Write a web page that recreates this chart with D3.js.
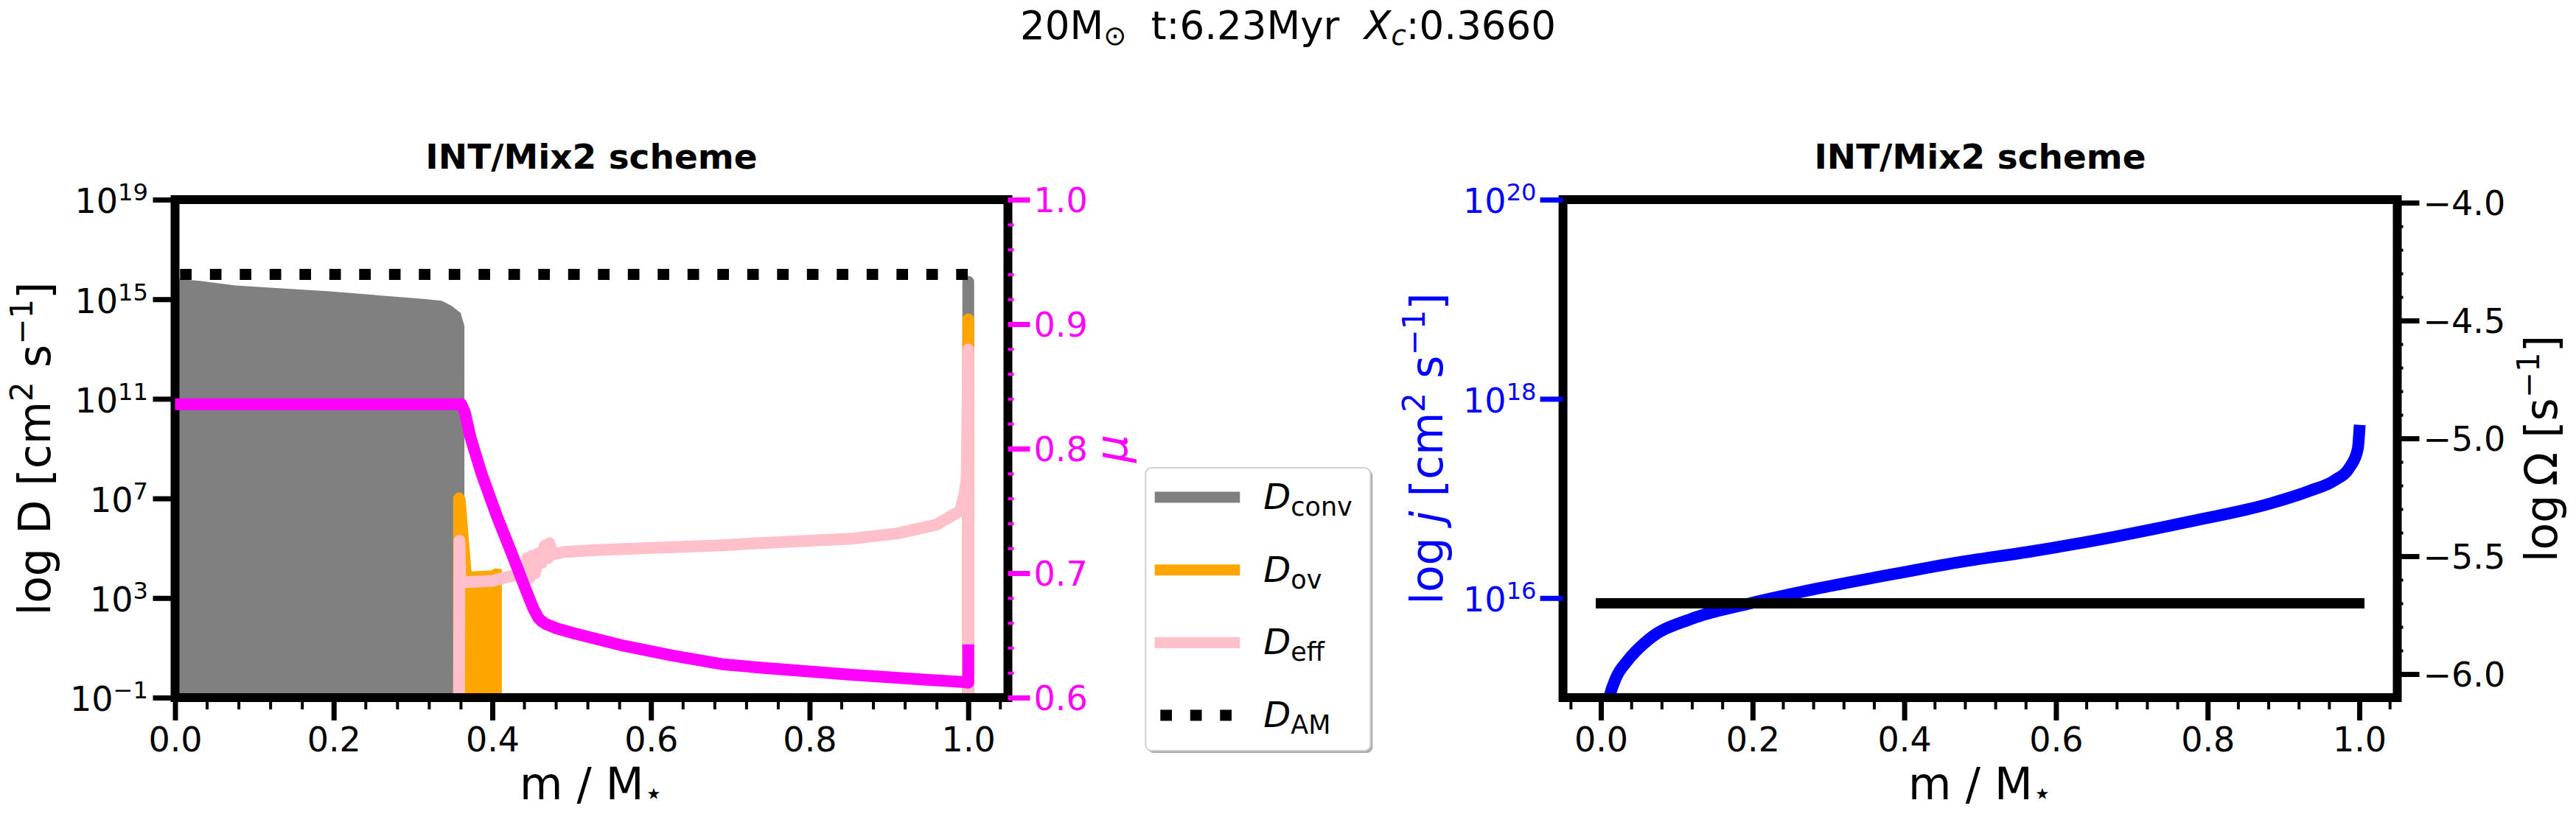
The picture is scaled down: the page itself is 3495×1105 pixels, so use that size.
<!DOCTYPE html>
<html>
<head>
<meta charset="utf-8">
<script src="https://cdn.jsdelivr.net/npm/d3@7"></script>
<style>
  body { margin: 0; background: #ffffff; }
  svg { display: block; font-family: "DejaVu Sans", sans-serif; }
</style>
</head>
<body>
<svg id="chart" width="3495" height="1105"></svg>
<script>
// values: mass coordinate m/M* and log10 of each quantity
var convCoreM    = [0, 0.006, 0.031, 0.076, 0.195, 0.313, 0.336, 0.348, 0.360, 0.3648];
var convCoreLogD = [15.81, 15.81, 15.74, 15.55, 15.32, 15.01, 14.94, 14.75, 14.45, 13.93];
var convSurfM    = [1.0, 1.0];
var convSurfLogD = [-2, 15.7];

var ovSpikeM    = [0.358, 0.358];
var ovSpikeLogD = [-2, 7.0];
var ovFillM     = [0.358, 0.3648, 0.3725, 0.399, 0.404, 0.4106];
var ovFillLogD  = [7.0, 6.99, 4.02, 4.07, 4.15, 4.12];
var ovSurfM     = [1.0, 1.0];
var ovSurfLogD  = [-2, 14.19];

var effM    = [0.358, 0.3585, 0.3595, 0.366, 0.400, 0.432, 0.440, 0.444, 0.447, 0.450, 0.454, 0.458,
               0.462, 0.466, 0.470, 0.472, 0.476, 0.490, 0.535, 0.616, 0.690, 0.734, 0.853, 0.912,
               0.960, 0.990, 0.9954, 0.998, 1.0, 1.0];
var effLogD = [-2, 5.3, 3.65, 3.64, 3.69, 3.95, 4.05, 4.6, 3.8, 4.7, 4.0, 4.8,
               4.4, 5.1, 4.6, 5.2, 4.75, 4.85, 4.93, 5.03, 5.12, 5.2, 5.38, 5.6,
               5.95, 6.5, 7.2, 7.8, 12.98, -2];

var amM    = [0, 1.0];
var amLogD = [16.0, 16.0];

var muM   = [0, 0.361, 0.3654, 0.3725, 0.3865, 0.4055, 0.424, 0.442, 0.447, 0.452, 0.458, 0.462,
             0.467, 0.480, 0.504, 0.566, 0.628, 0.690, 0.734, 0.853, 0.995, 1.0, 1.0];
var muVal = [0.8356, 0.8356, 0.829, 0.809, 0.7797, 0.7462, 0.7166, 0.687, 0.679, 0.6712, 0.664, 0.6615,
             0.6593, 0.6558, 0.6515, 0.6416, 0.6337, 0.6268, 0.6243, 0.6183, 0.6124, 0.612, 0.638];

var jM   = [0, 0.004, 0.011, 0.020, 0.034, 0.064, 0.119, 0.193, 0.282, 0.400, 0.465, 0.569,
            0.674, 0.778, 0.883, 0.936, 0.967, 0.988, 0.998, 1.0];
var jLog = [14.3, 14.7, 15.0, 15.2, 15.36, 15.59, 15.79, 15.94, 16.09, 16.26, 16.35, 16.47,
            16.61, 16.77, 16.95, 17.08, 17.18, 17.32, 17.50, 17.68];

var omegaM   = [0, 1.0];
var omegaLog = [-5.70, -5.70];

var dTicks     = [1e-1, 1e3, 1e7, 1e11, 1e15, 1e19];
var jTicks     = [1e16, 1e18, 1e20];
var muTicks    = [0.6, 0.7, 0.8, 0.9, 1.0];
var omegaTicks = [-6.0, -5.5, -5.0, -4.5, -4.0];
var mTicks     = [0, 0.2, 0.4, 0.6, 0.8, 1.0];

var legendSubs = ["conv", "ov", "eff", "AM"];

// ---- layout ----
var svg = d3.select("#chart");
var yTop = 271, yBot = 947;
var tickFont = 46, labelFont = 60;

var xLeft  = d3.scaleLinear().domain([0, 1.05]).range([237.5, 1367.5]);
var xRight = d3.scaleLinear().domain([-0.05, 1.05]).range([2120.6, 3252.5]);
var yD     = d3.scaleLog().domain([1e-1, 1e19]).range([yBot, yTop]);
var yMu    = d3.scaleLinear().domain([0.6, 1.0]).range([yBot, yTop]);
var yJ     = d3.scaleLog().domain([1e15, 1e20]).range([yBot, yTop]);
var yOmega = d3.scaleLinear().domain([-6.1, -3.987]).range([yBot, yTop]);

function pairs(a, b) { return d3.zip(a, b); }
function pow10(v) { return Math.pow(10, v); }

var defs = svg.append("defs");
function addClip(id, x) {
    var r = x.range();
    defs.append("clipPath").attr("id", id)
        .append("rect")
        .attr("x", r[0]).attr("y", yTop)
        .attr("width", r[1] - r[0]).attr("height", yBot - yTop);
}
addClip("clipL", xLeft);
addClip("clipR", xRight);

var lineD = d3.line()
    .x(function(d) { return xLeft(d[0]); })
    .y(function(d) { return yD(pow10(d[1])); });

var areaD = d3.area()
    .x(function(d) { return xLeft(d[0]); })
    .y0(yBot + 20)
    .y1(function(d) { return yD(pow10(d[1])); });

function drawPath(g, data, gen, color, width, cap) {
    return g.append("path")
        .datum(data)
        .attr("d", gen)
        .attr("fill", "none")
        .attr("stroke", color)
        .attr("stroke-width", width)
        .attr("stroke-linecap", cap)
        .attr("stroke-linejoin", "round");
}

function styleAxis(g, color, width) {
    g.attr("font-family", "DejaVu Sans")
        .attr("font-size", tickFont)
        .style("color", color);
    g.select(".domain").remove();
    g.selectAll(".tick line").attr("stroke-width", width);
}

function powerLabels(g) {
    g.selectAll(".tick text").each(function(d) {
        var t = d3.select(this);
        var e = Math.round(Math.log10(d));
        t.text(null).attr("dy", "0.39em");
        t.append("tspan").text("10");
        t.append("tspan")
            .attr("dy", -17)
            .attr("font-size", tickFont * 0.7)
            .text(e < 0 ? "\u2212" + (-e) : String(e));
    });
}

function minorValues(lo, hi, step, major) {
    return d3.range(lo, hi + step / 2, step).filter(function(v) {
        return Math.abs(v / major - Math.round(v / major)) > 1e-6;
    });
}

function drawSpines(x) {
    var r = x.range();
    svg.append("rect")
        .attr("x", r[0]).attr("y", yTop)
        .attr("width", r[1] - r[0]).attr("height", yBot - yTop)
        .attr("fill", "none")
        .attr("stroke", "#000")
        .attr("stroke-width", 12);
}

function drawBottomAxis(x, lo, hi) {
    var major = svg.append("g")
        .attr("transform", "translate(0," + yBot + ")")
        .call(d3.axisBottom(x).tickValues(mTicks).tickFormat(d3.format(".1f")).tickSize(31).tickPadding(9));
    styleAxis(major, "#000", 7);
    var minor = svg.append("g")
        .attr("transform", "translate(0," + yBot + ")")
        .call(d3.axisBottom(x).tickValues(minorValues(lo, hi, 0.04, 0.2)).tickFormat("").tickSize(16));
    styleAxis(minor, "#000", 4);
}

// ---- left panel: diffusion coefficients ----
var gL = svg.append("g").attr("clip-path", "url(#clipL)");

gL.append("path")
    .datum(pairs(convCoreM, convCoreLogD))
    .attr("d", areaD)
    .attr("fill", "gray");
drawPath(gL, pairs(convSurfM, convSurfLogD), lineD, "gray", 16, "round");

gL.append("path")
    .datum(pairs(ovFillM, ovFillLogD))
    .attr("d", areaD)
    .attr("fill", "orange")
    .attr("stroke", "orange")
    .attr("stroke-width", 3);
drawPath(gL, pairs(ovSpikeM, ovSpikeLogD), lineD, "orange", 16, "round");
drawPath(gL, pairs(ovSurfM, ovSurfLogD), lineD, "orange", 16, "round");

drawPath(gL, pairs(effM, effLogD), lineD, "pink", 16, "round");

drawPath(gL, pairs(amM, amLogD), lineD, "#000", 15, "butt")
    .attr("stroke-dasharray", "15.7 24.8")
    .attr("stroke-dashoffset", -6.8);

drawSpines(xLeft);

var axL = svg.append("g")
    .attr("transform", "translate(" + xLeft.range()[0] + ",0)")
    .call(d3.axisLeft(yD).tickValues(dTicks).tickSize(30).tickPadding(6.5));
styleAxis(axL, "#000", 7);
powerLabels(axL);

drawBottomAxis(xLeft, 0, 1.04);

// mean molecular weight on the twin axis
var gMu = svg.append("g").attr("clip-path", "url(#clipL)");
drawPath(gMu, pairs(muM, muVal), d3.line()
    .x(function(d) { return xLeft(d[0]); })
    .y(function(d) { return yMu(d[1]); }), "#ff00ff", 16, "square");

var axMu = svg.append("g")
    .attr("transform", "translate(" + xLeft.range()[1] + ",0)")
    .call(d3.axisRight(yMu).tickValues(muTicks).tickFormat(d3.format(".1f")).tickSize(30).tickPadding(5));
styleAxis(axMu, "#ff00ff", 7);
axMu.selectAll(".tick text").attr("dy", "0.36em");
var axMuMinor = svg.append("g")
    .attr("transform", "translate(" + xLeft.range()[1] + ",0)")
    .call(d3.axisRight(yMu).tickValues(minorValues(0.6, 1.0, 0.02, 0.1)).tickFormat("").tickSize(8));
styleAxis(axMuMinor, "#ff00ff", 4);

// ---- right panel: angular momentum and rotation ----
var gR = svg.append("g").attr("clip-path", "url(#clipR)");
drawPath(gR, pairs(jM, jLog), d3.line()
    .curve(d3.curveMonotoneX)
    .x(function(d) { return xRight(d[0]); })
    .y(function(d) { return yJ(pow10(d[1])); }), "#0000ff", 16, "square");

drawSpines(xRight);

var axJ = svg.append("g")
    .attr("transform", "translate(" + xRight.range()[0] + ",0)")
    .call(d3.axisLeft(yJ).tickValues(jTicks).tickSize(31).tickPadding(5));
styleAxis(axJ, "#0000ff", 7);
powerLabels(axJ);

drawBottomAxis(xRight, -0.04, 1.04);

var gOm = svg.append("g").attr("clip-path", "url(#clipR)");
drawPath(gOm, pairs(omegaM, omegaLog), d3.line()
    .x(function(d) { return xRight(d[0]); })
    .y(function(d) { return yOmega(d[1]); }), "#000", 14, "square");

var axOm = svg.append("g")
    .attr("transform", "translate(" + xRight.range()[1] + ",0)")
    .call(d3.axisRight(yOmega).tickValues(omegaTicks).tickFormat(d3.format(".1f")).tickSize(30).tickPadding(5));
styleAxis(axOm, "#000", 7);
axOm.selectAll(".tick text").attr("dy", "0.36em");
var axOmMinor = svg.append("g")
    .attr("transform", "translate(" + xRight.range()[1] + ",0)")
    .call(d3.axisRight(yOmega).tickValues(minorValues(-6.0, -4.0, 0.1, 0.5)).tickFormat("").tickSize(8));
styleAxis(axOmMinor, "#000", 4);

// ---- texts ----
function label(x, y, rotate, color) {
    return svg.append("text")
        .attr("transform", "translate(" + x + "," + y + ")" + (rotate ? " rotate(-90)" : ""))
        .attr("text-anchor", "middle")
        .attr("font-size", labelFont)
        .attr("fill", color);
}
function sup(t, s) {
    t.append("tspan").attr("dy", -24).attr("font-size", labelFont * 0.7).text(s);
    return t;
}
function back(t, s) {
    t.append("tspan").attr("dy", 24).text(s);
    return t;
}

var midL = (xLeft.range()[0] + xLeft.range()[1]) / 2;
var midR = (xRight.range()[0] + xRight.range()[1]) / 2;
var midY = (yTop + yBot) / 2;

var ylab = label(68, midY, true, "#000");
ylab.append("tspan").text("log D [cm");
sup(ylab, "2"); back(ylab, " s"); sup(ylab, "\u22121"); back(ylab, "]");

var jlab = label(1957, midY, true, "#0000ff");
jlab.append("tspan").text("log ");
jlab.append("tspan").attr("font-style", "italic").text("j");
jlab.append("tspan").text(" [cm");
sup(jlab, "2"); back(jlab, " s"); sup(jlab, "\u22121"); back(jlab, "]");

var olab = label(3469, midY, true, "#000");
olab.append("tspan").text("log\u2009\u03a9 [s");
sup(olab, "\u22121"); back(olab, "]");

label(1529, midY, true, "#ff00ff")
    .attr("font-style", "italic")
    .text("\u03bc");

[midL, midR].forEach(function(cx) {
    var t = label(cx, 1085, false, "#000");
    t.append("tspan").text("m / M");
    t.append("tspan").attr("dy", 6).attr("font-size", labelFont * 0.7).text("\u22c6");

    svg.append("text")
        .attr("x", cx).attr("y", 229)
        .attr("text-anchor", "middle")
        .attr("font-size", 47)
        .attr("font-weight", "bold")
        .text("INT/Mix2 scheme");
});

var st = svg.append("text")
    .attr("x", 1747.5).attr("y", 53)
    .attr("text-anchor", "middle")
    .attr("font-size", 53);
st.append("tspan").text("20M");
st.append("tspan").attr("dy", 8).attr("font-size", 37).text("\u2299");
st.append("tspan").attr("dy", -8).text("\u00a0\u00a0t:6.23Myr\u00a0\u00a0");
st.append("tspan").attr("font-style", "italic").text("X");
st.append("tspan").attr("dy", 8).attr("font-size", 37).attr("font-style", "italic").text("c");
st.append("tspan").attr("dy", -8).text(":0.3660");

// ---- legend ----
var lg = svg.append("g").attr("transform", "translate(1554.3,635)");
lg.append("rect")
    .attr("x", 3).attr("y", 3)
    .attr("width", 305).attr("height", 384)
    .attr("rx", 8)
    .attr("fill", "#aaaaaa");
lg.append("rect")
    .attr("width", 305).attr("height", 384)
    .attr("rx", 8)
    .attr("fill", "#ffffff")
    .attr("stroke", "#d0d0d0")
    .attr("stroke-width", 2);

var legendColors = ["gray", "orange", "pink", "#000"];
legendSubs.forEach(function(s, i) {
    var y = 40 + i * 98.7;
    var ln = lg.append("line")
        .attr("x1", 12.4).attr("x2", 128)
        .attr("y1", y).attr("y2", y)
        .attr("stroke", legendColors[i])
        .attr("stroke-width", 15);
    if (s === "AM") {
        ln.attr("stroke-dasharray", "15.7 24.8").attr("stroke-dashoffset", -7.6);
    }
    var t = lg.append("text")
        .attr("x", 160).attr("y", y + 16)
        .attr("font-size", 48);
    t.append("tspan").attr("font-style", "italic").text("D");
    t.append("tspan").attr("dy", 9).attr("font-size", 35).text(s);
});
</script>
</body>
</html>
